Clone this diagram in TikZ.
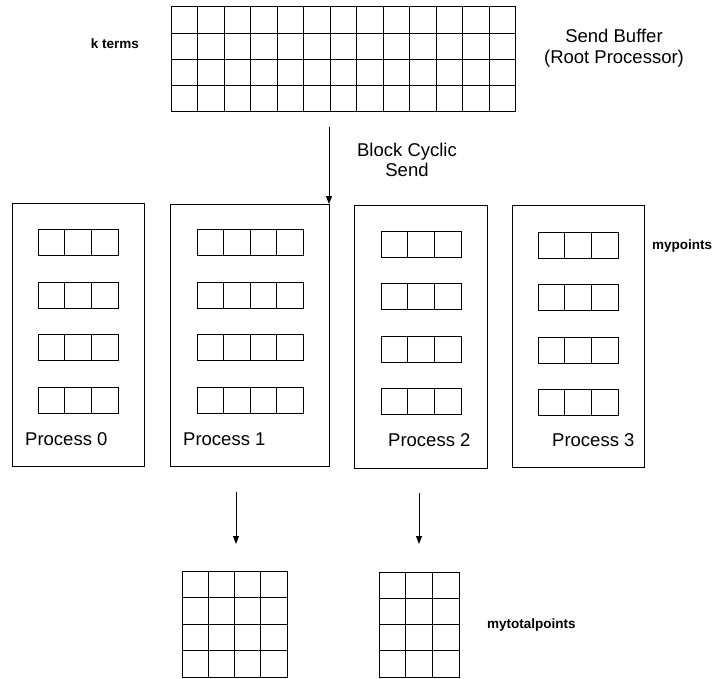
\documentclass[tikz,border=0pt]{standalone}
\usepackage{fontspec}
\setmainfont{Liberation Sans}
\usetikzlibrary{arrows.meta}
\tikzset{
  gridbox/.style={draw, line width=1pt, inner sep=0pt, outer sep=0pt},
  gridline/.style={line width=1pt},
  procbox/.style={draw, line width=1pt, inner sep=0pt, outer sep=0pt, anchor=north west},
  bigtext/.style={font=\fontsize{18.5}{20.5}\selectfont, inner sep=0pt, align=center},
  smalltext/.style={font=\fontsize{13.5}{16}\selectfont\bfseries, inner sep=0pt},
  flowarrow/.style={line width=1pt, -{Triangle[length=8pt,width=6pt]}}
}
\newcommand{\cellgrid}[7]{%
  \node[gridbox, anchor=north west, minimum width={(#4)*(#6)*1pt}, minimum height={(#5)*(#7)*1pt}] (#1) at (#2,#3) {};
  \pgfmathtruncatemacro\lastcol{#4-1}%
  \pgfmathtruncatemacro\lastrow{#5-1}%
  \foreach \i in {1,...,\lastcol}{\draw[gridline] ({#2+\i*#6},#3) -- ({#2+\i*#6},{#3+#5*#7});}
  \ifnum#5>1
    \foreach \j in {1,...,\lastrow}{\draw[gridline] (#2,{#3+\j*#7}) -- ({#2+#4*#6},{#3+\j*#7});}
  \fi
}
\begin{document}
\begin{tikzpicture}[x=1pt,y=-1pt]
\useasboundingbox[fill=white] (0,0) rectangle (714,679);

% send buffer
\cellgrid{topgrid}{171}{7}{13}{4}{26.5}{26.25}
\node[smalltext] (kterms) at (115,44) {k terms};
\node[bigtext] (sendbuf) at (614,48) {Send Buffer\\(Root Processor)};

% process boxes
\node[procbox, minimum width=132pt, minimum height=263pt] (p0) at (12,203) {};
\node[procbox, minimum width=159pt, minimum height=262pt] (p1) at (170,204) {};
\node[procbox, minimum width=133pt, minimum height=263pt] (p2) at (354,205) {};
\node[procbox, minimum width=132pt, minimum height=262pt] (p3) at (512,205) {};

% arrays inside processes
\cellgrid{p0a}{38}{229}{3}{1}{26.67}{26.3}
\cellgrid{p0b}{38}{282}{3}{1}{26.67}{26.3}
\cellgrid{p0c}{38}{334}{3}{1}{26.67}{26.3}
\cellgrid{p0d}{38}{387}{3}{1}{26.67}{26.3}

\cellgrid{p1a}{197}{229}{4}{1}{26.5}{26.3}
\cellgrid{p1b}{197}{282}{4}{1}{26.5}{26.3}
\cellgrid{p1c}{197}{334}{4}{1}{26.5}{26.3}
\cellgrid{p1d}{197}{387}{4}{1}{26.5}{26.3}

\cellgrid{p2a}{381}{231}{3}{1}{26.67}{26.3}
\cellgrid{p2b}{381}{283}{3}{1}{26.67}{26.3}
\cellgrid{p2c}{381}{336}{3}{1}{26.67}{26.3}
\cellgrid{p2d}{381}{388}{3}{1}{26.67}{26.3}

\cellgrid{p3a}{538}{232}{3}{1}{26.67}{26.3}
\cellgrid{p3b}{538}{284}{3}{1}{26.67}{26.3}
\cellgrid{p3c}{538}{337}{3}{1}{26.67}{26.3}
\cellgrid{p3d}{538}{389}{3}{1}{26.67}{26.3}

\node[bigtext, anchor=west] (l0) at (25,439) {Process 0};
\node[bigtext, anchor=west] (l1) at (183,439) {Process 1};
\node[bigtext, anchor=west] (l2) at (388,440) {Process 2};
\node[bigtext, anchor=west] (l3) at (552,440) {Process 3};
\node[smalltext, anchor=west] (mypoints) at (652,246) {mypoints};

% block cyclic send arrow
\coordinate (sendstart) at (329,127);
\draw[flowarrow] (sendstart) -- (p1.north east);
\node[bigtext] (bcs) at (407,160) {Block Cyclic\\Send};

% gather arrows
\coordinate (g0s) at (236,492);
\coordinate (g0e) at (236,544);
\coordinate (g1s) at (419,493);
\coordinate (g1e) at (419,544);
\draw[flowarrow] (g0s) -- (g0e);
\draw[flowarrow] (g1s) -- (g1e);

% result grids
\cellgrid{res0}{182}{571}{4}{4}{26.25}{26.5}
\cellgrid{res1}{379}{572}{3}{4}{26.67}{26.25}
\node[smalltext, anchor=west] (mytotal) at (487,625) {mytotalpoints};
\end{tikzpicture}
\end{document}
